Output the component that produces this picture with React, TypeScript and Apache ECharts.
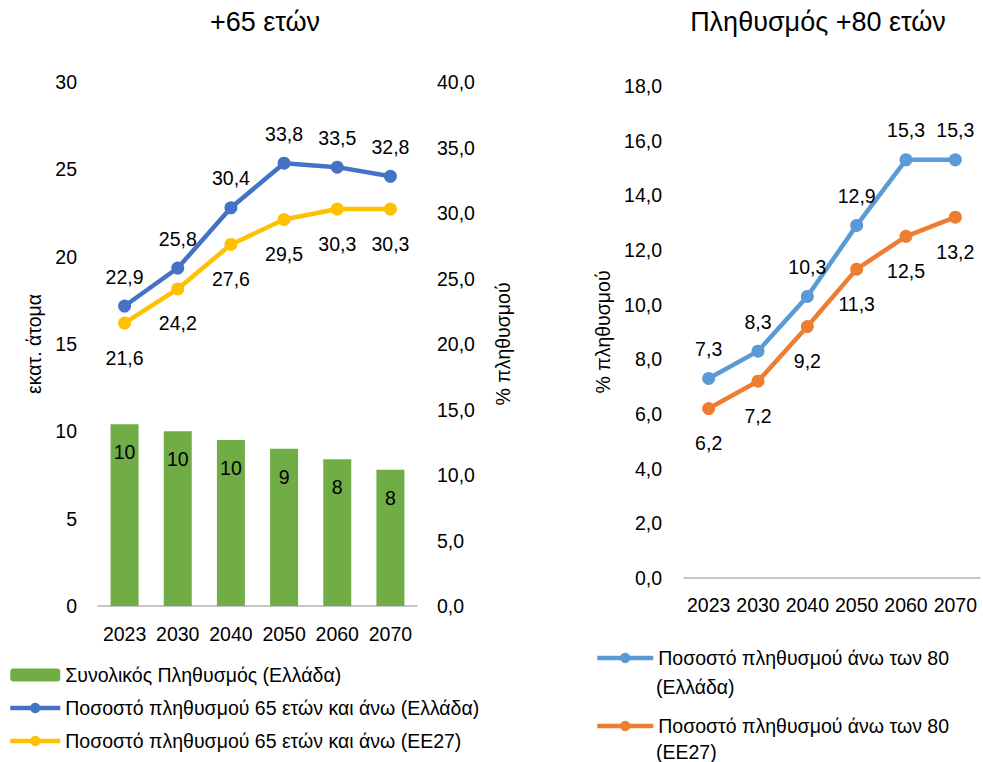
import React, { useEffect, useRef } from 'react';
import * as echarts from 'echarts';

const years = ['2023', '2030', '2040', '2050', '2060', '2070'];
const totalPopulation = [10.4, 10.0, 9.5, 9.0, 8.4, 7.8];
const share65Greece = [22.9, 25.8, 30.4, 33.8, 33.5, 32.8];
const share65EU = [21.6, 24.2, 27.6, 29.5, 30.3, 30.3];
const share80Greece = [7.3, 8.3, 10.3, 12.9, 15.3, 15.3];
const share80EU = [6.2, 7.2, 9.2, 11.3, 12.5, 13.2];

const nameTotal = 'Συνολικός Πληθυσμός (Ελλάδα)';
const name65Greece = 'Ποσοστό πληθυσμού 65 ετών και άνω (Ελλάδα)';
const name65EU = 'Ποσοστό πληθυσμού 65 ετών και άνω (ΕΕ27)';
const name80Greece = 'Ποσοστό πληθυσμού άνω των 80\n(Ελλάδα)';
const name80EU = 'Ποσοστό πληθυσμού άνω των 80\n(ΕΕ27)';

const FONT = '"Liberation Sans", Arial, Helvetica, sans-serif';
const FS = 19.5;
const fmt1 = (v: number) => v.toFixed(1).replace('.', ',');

export default function App() {
  const ref = useRef<HTMLDivElement>(null);
  useEffect(() => {
    document.body.style.margin = '0';
    const chart = echarts.init(ref.current!, null, { renderer: 'svg' });
    const axisLabel = { fontSize: FS, fontFamily: FONT, color: '#000' };
    const axisLine = { show: true, lineStyle: { color: '#B4B4B4', width: 1.5 } };
    const lineSeries = (name: string, data: number[], color: string, x: number, y: number, pos: string) => ({
      type: 'line',
      name,
      data,
      xAxisIndex: x,
      yAxisIndex: y,
      symbol: 'circle',
      symbolSize: 13,
      color,
      lineStyle: { color, width: 4.5 },
      itemStyle: { color },
      label: {
        show: true,
        position: pos,
        distance: pos === 'top' ? 13 : 18,
        formatter: (p: any) => fmt1(p.value),
        fontSize: FS,
        fontFamily: FONT,
        color: '#000',
      },
      z: 3,
    });
    const legendCommon = {
      orient: 'vertical',
      padding: 0,
      itemHeight: 13,
      lineStyle: { width: 4.5 },
      textStyle: { fontSize: FS, fontFamily: FONT, color: '#000' },
    };
    chart.setOption({
      animation: false,
      textStyle: { fontFamily: FONT },
      graphic: [
        { type: 'text', x: 265, y: 22, style: { text: '+65 ετών', font: `27px ${FONT}`, fill: '#000', align: 'center', textAlign: 'center', verticalAlign: 'middle', textVerticalAlign: 'middle' } },
        { type: 'text', x: 818, y: 22, style: { text: 'Πληθυσμός +80 ετών', font: `27px ${FONT}`, fill: '#000', align: 'center', textAlign: 'center', verticalAlign: 'middle', textVerticalAlign: 'middle' } },
        { type: 'text', x: 656, y: 687, style: { text: '(Ελλάδα)', font: `${FS}px ${FONT}`, fill: '#000', verticalAlign: 'middle', textVerticalAlign: 'middle' } },
        { type: 'text', x: 656, y: 752, style: { text: '(ΕΕ27)', font: `${FS}px ${FONT}`, fill: '#000', verticalAlign: 'middle', textVerticalAlign: 'middle' } },
      ],
      legend: [
        {
          ...legendCommon,
          left: 8,
          top: 665,
          itemWidth: 50,
          itemGap: 13,
          data: [nameTotal, name65Greece, name65EU],
        },
        {
          ...legendCommon,
          left: 595,
          top: 648,
          itemWidth: 56,
          itemGap: 48,
          data: [name80Greece, name80EU],
          formatter: (n: string) => n.split('\n')[0],
        },
      ],
      grid: [
        { left: 98, top: 82, width: 319, height: 524 },
        { left: 684, top: 86, width: 296, height: 492 },
      ],
      xAxis: [
        {
          type: 'category', gridIndex: 0, data: years,
          axisLine, axisTick: { show: false },
          axisLabel: { ...axisLabel, margin: 18, interval: 0 },
        },
        {
          type: 'category', gridIndex: 1, data: years,
          axisLine, axisTick: { show: false },
          axisLabel: { ...axisLabel, margin: 17, interval: 0 },
        },
      ],
      yAxis: [
        {
          type: 'value', gridIndex: 0, min: 0, max: 30, interval: 5, position: 'left',
          axisLine: { show: false }, axisTick: { show: false }, splitLine: { show: false },
          axisLabel: { ...axisLabel, margin: 21 },
          name: 'εκατ. άτομα', nameLocation: 'middle', nameGap: 54, nameRotate: 90,
          nameTextStyle: { fontSize: FS, fontFamily: FONT, color: '#000' },
        },
        {
          type: 'value', gridIndex: 0, min: 0, max: 40, interval: 5, position: 'right',
          axisLine: { show: false }, axisTick: { show: false }, splitLine: { show: false },
          axisLabel: { ...axisLabel, margin: 20, formatter: (v: number) => fmt1(v) },
          name: '% πληθυσμού', nameLocation: 'middle', nameGap: 76, nameRotate: 90,
          nameTextStyle: { fontSize: FS, fontFamily: FONT, color: '#000' },
        },
        {
          type: 'value', gridIndex: 1, min: 0, max: 18, interval: 2, position: 'left',
          axisLine: { show: false }, axisTick: { show: false }, splitLine: { show: false },
          axisLabel: { ...axisLabel, margin: 22, formatter: (v: number) => fmt1(v) },
          name: '% πληθυσμού', nameLocation: 'middle', nameGap: 71, nameRotate: 90,
          nameTextStyle: { fontSize: FS, fontFamily: FONT, color: '#000' },
        },
      ],
      series: [
        {
          type: 'bar', name: nameTotal, data: totalPopulation,
          xAxisIndex: 0, yAxisIndex: 0, barWidth: 28,
          itemStyle: { color: '#70AD47' }, color: '#70AD47',
          label: {
            show: true, position: 'insideTop', distance: 18,
            formatter: (p: any) => String(Math.round(p.value)),
            fontSize: FS, fontFamily: FONT, color: '#000',
          },
        },
        lineSeries(name65Greece, share65Greece, '#4472C4', 0, 1, 'top'),
        lineSeries(name65EU, share65EU, '#FFC000', 0, 1, 'bottom'),
        lineSeries(name80Greece, share80Greece, '#5B9BD5', 1, 2, 'top'),
        lineSeries(name80EU, share80EU, '#ED7D31', 1, 2, 'bottom'),
      ],
    });
    return () => chart.dispose();
  }, []);
  return <div ref={ref} style={{ width: 983, height: 762 }} />;
}
